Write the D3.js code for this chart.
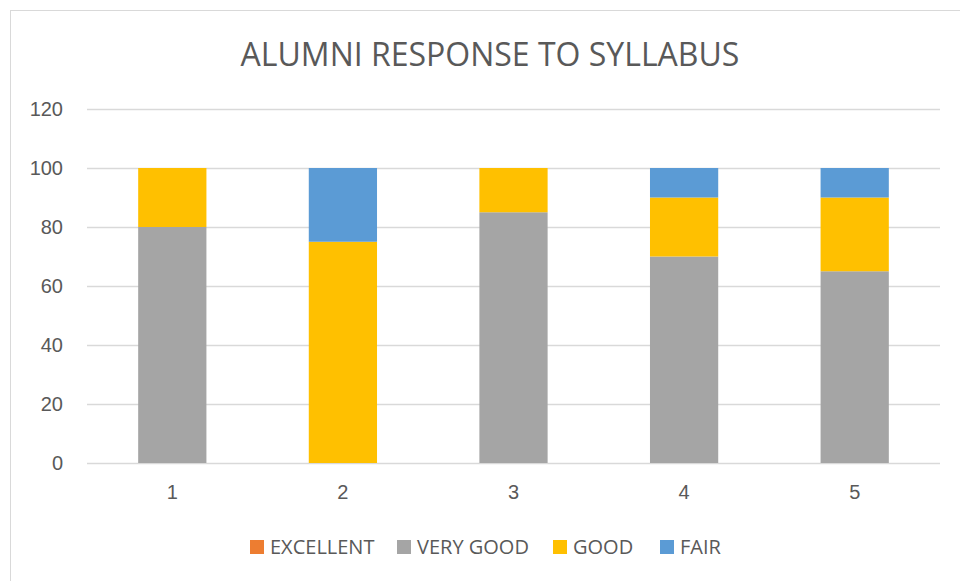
<!DOCTYPE html>
<html lang="en">
<head>
    <meta charset="UTF-8">
    <title>Alumni Response to Syllabus</title>
    <script src="https://d3js.org/d3.v7.min.js"></script>
    <style>
        body {
            margin: 0;
            padding: 0;
            background: #fff;
            font-family: "Open Sans", "Liberation Sans", sans-serif;
        }
        svg { display: block; }
        .tick text { fill: #595959; }
    </style>
</head>
<body>
    <svg width="960" height="581"></svg>

    <script>
        // data
        const categories = ["1", "2", "3", "4", "5"];
        const seriesNames = ["EXCELLENT", "VERY GOOD", "GOOD", "FAIR"];
        const excellent = [0, 0, 0, 0, 0];
        const veryGood = [80, 0, 85, 70, 65];
        const good = [20, 75, 15, 20, 25];
        const fair = [0, 25, 0, 10, 10];
        const yTicks = [0, 20, 40, 60, 80, 100, 120];
        const colors = ["#ED7D31", "#A5A5A5", "#FFC000", "#5B9BD5"];

        const rows = categories.map((c, i) => ({
            cat: c,
            "EXCELLENT": excellent[i],
            "VERY GOOD": veryGood[i],
            "GOOD": good[i],
            "FAIR": fair[i]
        }));

        const svg = d3.select("svg");

        // chart frame
        svg.append("rect")
            .attr("x", 10.5).attr("y", 10.5)
            .attr("width", 960).attr("height", 600)
            .attr("fill", "#fff")
            .attr("stroke", "#D9D9D9")
            .attr("stroke-width", 1);

        svg.append("text")
            .attr("x", 490)
            .attr("y", 66)
            .attr("text-anchor", "middle")
            .attr("fill", "#595959")
            .style("font-size", "32px")
            .text("ALUMNI RESPONSE TO SYLLABUS");

        const plot = { left: 87, right: 940, top: 109, bottom: 463 };

        const x = d3.scaleBand()
            .domain(categories)
            .range([plot.left, plot.right])
            .paddingInner(0.6)
            .paddingOuter(0.3);

        const y = d3.scaleLinear()
            .domain([0, 120])
            .range([plot.bottom, plot.top]);

        // gridlines
        svg.append("g")
            .selectAll("line")
            .data(yTicks)
            .enter()
            .append("line")
            .attr("x1", plot.left)
            .attr("x2", plot.right)
            .attr("y1", d => Math.round(y(d)) + 0.5)
            .attr("y2", d => Math.round(y(d)) + 0.5)
            .attr("stroke", "#D9D9D9")
            .attr("stroke-width", 1.5);

        const stack = d3.stack().keys(seriesNames)(rows);

        svg.append("g")
            .selectAll("g")
            .data(stack)
            .enter()
            .append("g")
            .attr("fill", (d, i) => colors[i])
            .selectAll("rect")
            .data(d => d)
            .enter()
            .append("rect")
            .attr("x", d => x(d.data.cat))
            .attr("y", d => y(d[1]))
            .attr("width", x.bandwidth())
            .attr("height", d => y(d[0]) - y(d[1]));

        // y axis labels
        const yAxis = svg.append("g")
            .attr("transform", `translate(${plot.left - 24},0)`)
            .call(d3.axisLeft(y).tickValues(yTicks).tickSize(0).tickPadding(0));
        yAxis.select(".domain").remove();
        yAxis.selectAll("text").style("font-size", "20px");

        // x axis labels
        const xAxis = svg.append("g")
            .attr("transform", `translate(0,${plot.bottom + 22})`)
            .call(d3.axisBottom(x).tickSize(0).tickPadding(0));
        xAxis.select(".domain").remove();
        xAxis.selectAll("text").style("font-size", "20px");

        // legend
        const legendX = [250, 397, 553, 660];
        const legend = svg.append("g")
            .selectAll("g")
            .data(seriesNames)
            .enter()
            .append("g")
            .attr("transform", (d, i) => `translate(${legendX[i]},540)`);
        legend.append("rect")
            .attr("width", 14)
            .attr("height", 14)
            .attr("fill", (d, i) => colors[i]);
        legend.append("text")
            .attr("x", 20)
            .attr("y", 14)
            .attr("fill", "#595959")
            .style("font-size", "20px")
            .text(d => d);
    </script>
</body>
</html>
